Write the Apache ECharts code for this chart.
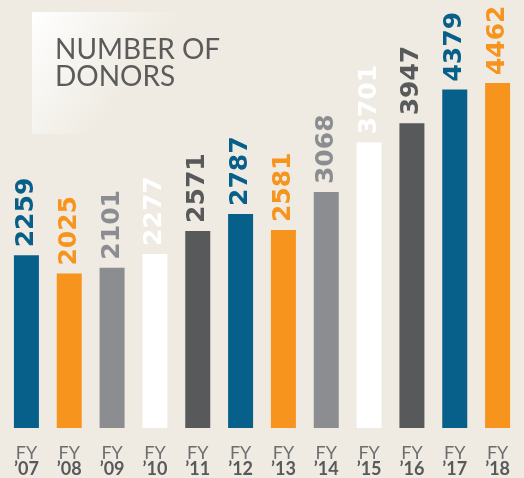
<!DOCTYPE html>
<html>
<head>
<meta charset="utf-8">
<script src="https://cdn.jsdelivr.net/npm/echarts@6/dist/echarts.min.js"></script>
<style>
  html, body { margin: 0; padding: 0; background: #efebe2; }
  #chart { width: 524px; height: 478px; }
</style>
</head>
<body>
<div id="chart"></div>
<script>
// fiscal years and donor counts
const years = ['07', '08', '09', '10', '11', '12', '13', '14', '15', '16', '17', '18'];
const donors = [2259, 2025, 2101, 2277, 2571, 2787, 2581, 3068, 3701, 3947, 4379, 4462];
const barColors = ['#07608a', '#f7941e', '#8c8d90', '#ffffff', '#58595b', '#07608a',
  '#f7941e', '#8c8d90', '#ffffff', '#58595b', '#07608a', '#f7941e'];

const chart = echarts.init(document.getElementById('chart'));

const data = donors.map((v, i) => ({
  value: v,
  itemStyle: { color: barColors[i] },
  label: { color: barColors[i] }
}));

const option = {
  backgroundColor: '#efebe2',
  animation: false,
  graphic: [{
    type: 'rect',
    left: 32,
    top: 12,
    shape: { width: 165, height: 122 },
    style: {
      fill: {
        type: 'linear', x: 0, y: 0, x2: 1, y2: 1,
        colorStops: [
          { offset: 0, color: 'rgba(255,255,255,1)' },
          { offset: 0.6, color: 'rgba(255,255,255,0)' }
        ]
      }
    },
    z: -1
  }, {
    type: 'text',
    left: 55,
    top: 36,
    style: {
      text: 'NUMBER OF\nDONORS',
      fill: '#5b5b5b',
      font: '28px Lato',
      lineHeight: 27
    }
  }],
  grid: { left: 5, right: 5, top: 41, bottom: 43 },
  xAxis: {
    type: 'category',
    data: years,
    axisLine: { show: false },
    axisTick: { show: false },
    axisLabel: {
      interval: 0,
      margin: 17,
      formatter: v => '{a|FY}\n{b|\u2019' + v + '}',
      rich: {
        a: { fontFamily: 'Lato', fontSize: 18, color: '#6d6e70', lineHeight: 16 },
        b: { fontFamily: 'Lato', fontWeight: 'bold', fontSize: 18, color: '#58595b', lineHeight: 16 }
      }
    }
  },
  yAxis: {
    type: 'value',
    min: 50,
    max: 5000,
    show: false,
    splitLine: { show: false }
  },
  series: [{
    type: 'bar',
    barWidth: 25,
    data: data,
    label: {
      show: true,
      position: 'top',
      rotate: 90,
      align: 'left',
      verticalAlign: 'middle',
      distance: 8,
      fontFamily: 'DejaVu Sans',
      fontWeight: 'bold',
      fontSize: 25
    }
  }]
};
chart.setOption(option);
</script>
</body>
</html>
